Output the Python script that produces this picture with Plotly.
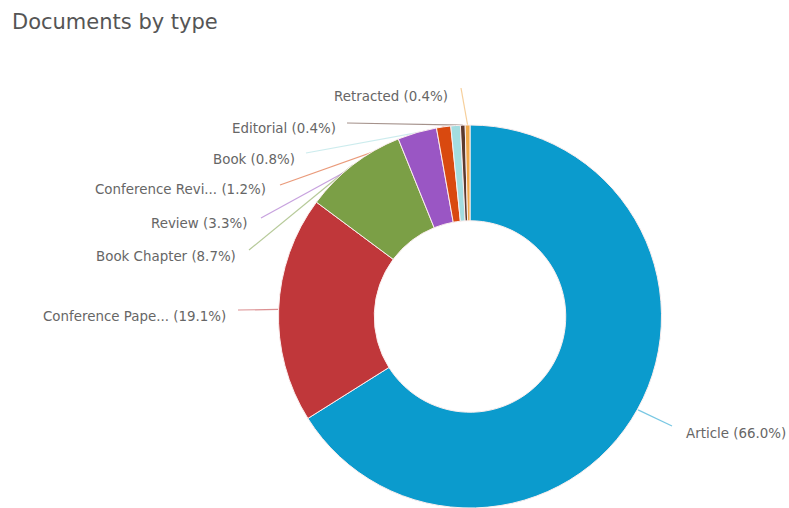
import math
import plotly.graph_objects as go

W, H = 789, 508

categories = ["Article", "Conference Paper", "Book Chapter", "Review",
              "Conference Review", "Book", "Editorial", "Retracted"]
short_labels = ["Article", "Conference Pape...", "Book Chapter", "Review",
                "Conference Revi...", "Book", "Editorial", "Retracted"]
percents = [66.0, 19.1, 8.7, 3.3, 1.2, 0.8, 0.4, 0.4]
colors = ["#0b9bcd", "#c0373a", "#7b9f46", "#9a56c4",
          "#d9490f", "#a3dde0", "#5c3a2e", "#f0a94a"]

# layout: label anchor (pixel), text side
label_pos = {
    "Article": (684, 433, "left"),
    "Conference Paper": (228, 316, "right"),
    "Book Chapter": (238, 256, "right"),
    "Review": (250, 223, "right"),
    "Conference Review": (268, 189, "right"),
    "Book": (297, 159, "right"),
    "Editorial": (338, 128, "right"),
    "Retracted": (450, 96, "right"),
}
line_start = {
    "Article": (672, 426),
    "Conference Paper": (238, 310),
    "Book Chapter": (249, 250),
    "Review": (261, 218),
    "Conference Review": (280, 185),
    "Book": (306, 153),
    "Editorial": (347, 123),
    "Retracted": (461, 88),
}

cx, cy, R = 470, 317, 192
dom_x = [(cx - R) / W, (cx + R) / W]
dom_y = [1 - (cy + R) / H, 1 - (cy - R) / H]
dom_y[0] = max(dom_y[0], 0)

fig = go.Figure()
fig.add_trace(go.Pie(
    labels=categories, values=percents, hole=0.5, sort=False,
    direction="clockwise", rotation=0,
    marker=dict(colors=colors, line=dict(color="#fbeeee", width=1)),
    textinfo="none", hoverinfo="label+percent",
    domain=dict(x=dom_x, y=dom_y), showlegend=False,
))

def px2paper(x, y):
    return x / W, 1 - y / H

total = sum(percents)
cum = 0.0
shapes, annotations = [], []
for cat, short, p, col in zip(categories, short_labels, percents, colors):
    mid = (cum + p / 2) / total * 2 * math.pi
    cum += p
    ex, ey = cx + R * math.sin(mid), cy - R * math.cos(mid)
    sx, sy = line_start[cat]
    x0, y0 = px2paper(sx, sy)
    x1, y1 = px2paper(ex, ey)
    shapes.append(dict(type="line", xref="paper", yref="paper",
                       x0=x0, y0=y0, x1=x1, y1=y1, layer="below",
                       line=dict(color=col, width=1.2), opacity=0.55))
    lx, ly, side = label_pos[cat]
    ax, ay = px2paper(lx, ly)
    annotations.append(dict(
        text=f"{short} ({p:.1f}%)", xref="paper", yref="paper",
        x=ax, y=ay, xanchor=side, yanchor="middle", showarrow=False,
        font=dict(family="DejaVu Sans, sans-serif", size=13.4, color="#666666")))

annotations.append(dict(
    text="Documents by type", xref="paper", yref="paper",
    x=10 / W, y=1 - 22 / H, xanchor="left", yanchor="middle", showarrow=False,
    font=dict(family="DejaVu Sans, sans-serif", size=21, color="#555555")))

fig.update_layout(
    width=W, height=H, margin=dict(l=0, r=0, t=0, b=0),
    paper_bgcolor="white", plot_bgcolor="white",
    shapes=shapes, annotations=annotations,
)
fig.write_html("out.html")
